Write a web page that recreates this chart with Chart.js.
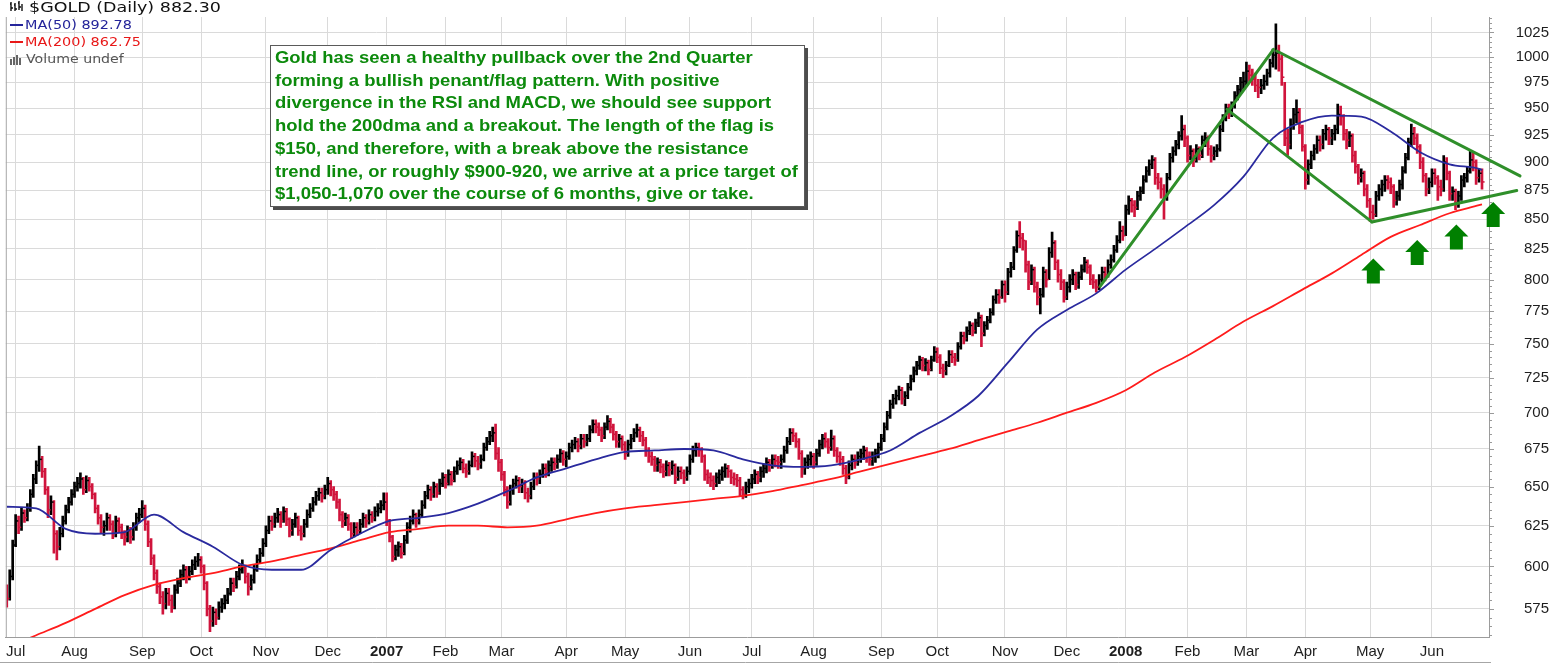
<!DOCTYPE html>
<html>
<head>
<meta charset="utf-8">
<script src="https://cdn.jsdelivr.net/npm/chart.js@4.4.1/dist/chart.umd.min.js"></script>
<style>
html,body{margin:0;padding:0;background:#fff;}
#wrap{position:relative;width:1549px;height:665px;overflow:hidden;background:#fff;}
#c{position:absolute;left:0;top:0;}
.lg{position:absolute;left:0;white-space:nowrap;font-family:'DejaVu Sans',Verdana,sans-serif;}
.lg span.t{display:inline-block;transform-origin:0 50%;}
#note{position:absolute;left:270px;top:45px;width:535px;height:162px;box-sizing:border-box;border:1px solid #5a5a5a;background:#fff;box-shadow:3px 3px 0 #4d4d4d;padding:1px 0 0 4px;font-family:'Liberation Sans',Arial,sans-serif;font-weight:bold;font-size:17px;line-height:22.7px;color:#0c8a0c;white-space:nowrap;}
#note div{transform:scaleX(1.085);transform-origin:0 50%;}
#dbg{position:absolute;left:600px;top:300px;color:#f00;font:14px sans-serif;}
</style>
</head>
<body>
<div id="wrap">
<canvas id="c" width="1549" height="665"></canvas>
<div class="lg" style="top:0px;left:10px;font-size:14px;line-height:14px;color:#111;">
  <svg width="13" height="11" style="position:absolute;left:0;top:1px" viewBox="0 0 13 11"><path d="M1 1v9M0 3h1M1 7h2M5 2v8M4 4h1M5 8h2M9 0v9M8 2h1M9 6h2M12 3v7" stroke="#111" stroke-width="1.4" fill="none"/></svg>
  <span class="t" style="position:absolute;left:19px;top:0;transform:scaleX(1.25)">$GOLD (Daily) 882.30</span>
</div>
<div class="lg" style="top:19px;left:10px;font-size:12px;line-height:12px;color:#24249a;">
  <span style="position:absolute;left:0;top:5px;width:13px;height:2px;background:#24249a"></span>
  <span class="t" style="position:absolute;left:15px;top:0;transform:scaleX(1.2)">MA(50) 892.78</span>
</div>
<div class="lg" style="top:36px;left:10px;font-size:12px;line-height:12px;color:#e81818;">
  <span style="position:absolute;left:0;top:5px;width:13px;height:2px;background:#e81818"></span>
  <span class="t" style="position:absolute;left:15px;top:0;transform:scaleX(1.2)">MA(200) 862.75</span>
</div>
<div class="lg" style="top:53px;left:10px;font-size:12px;line-height:12px;color:#555;">
  <svg width="13" height="11" style="position:absolute;left:0;top:1px" viewBox="0 0 13 11"><path d="M1 5v6M4 3v8M7 1v10M10 4v7" stroke="#666" stroke-width="2" fill="none"/></svg>
  <span class="t" style="position:absolute;left:16px;top:0;transform:scaleX(1.18)">Volume undef</span>
</div>
<div id="note">
<div>Gold has seen a healthy pullback over the 2nd Quarter</div>
<div>forming a bullish penant/flag pattern. With positive</div>
<div>divergence in the RSI and MACD, we should see support</div>
<div>hold the 200dma and a breakout. The length of the flag is</div>
<div>$150, and therefore, with a break above the resistance</div>
<div>trend line, or roughly $900-920, we arrive at a price target of</div>
<div>$1,050-1,070 over the course of 6 months, give or take.</div>
</div>
<div id="dbg"></div>
</div>
<script>
// ---------------- DATA ----------------
const firstDay = '2006-06-28';
const holidays = ['2006-07-04','2006-09-04','2006-11-23','2006-12-25','2007-01-01','2007-01-02','2007-01-15','2007-02-19','2007-04-06','2007-05-28','2007-07-04','2007-09-03','2007-11-22','2007-12-25','2008-01-01','2008-01-21','2008-02-18','2008-03-21','2008-05-26'];
const monthNames = ['Jan','Feb','Mar','Apr','May','Jun','Jul','Aug','Sep','Oct','Nov','Dec'];
const priorClose = 586;

const closes = [
581,594,613,
628,624,633,630,636,645,655,664,668,660,648,635,640,620,612,620,628,635,640,645,
650,652,655,648,654,650,645,636,630,624,625,630,626,620,628,624,620,618,622,618,624,630,632,
636,626,615,605,596,588,582,578,584,580,576,586,590,595,598,594,597,601,603,604,
600,590,575,568,573,570,576,578,580,584,590,588,594,598,600,594,588,592,598,604,608,614,
622,628,626,630,632,628,634,629,622,626,630,622,620,626,632,636,640,644,646,644,648,
652,648,645,640,632,628,630,626,620,624,622,626,630,628,632,630,634,636,638,640,
628,618,606,610,612,608,616,624,628,632,628,632,638,644,648,645,650,646,652,656,
652,658,654,660,664,666,662,660,664,670,667,665,668,676,680,684,686,672,666,
658,648,640,648,652,654,650,652,646,644,650,656,655,658,662,660,664,666,665,668,672,668,
670,676,678,680,677,682,680,682,688,692,690,688,684,690,694,690,685,680,682,678,
672,678,682,686,688,684,681,674,670,668,664,666,663,660,664,661,664,656,660,659,656,660,
668,674,676,674,670,658,656,654,652,656,658,660,662,660,656,655,654,648,645,650,652,
655,658,656,660,662,666,664,668,667,666,668,674,680,686,684,680,672,662,666,668,670,
666,672,678,682,680,676,682,674,670,668,662,656,664,668,666,670,672,674,670,668,670,672,676,
682,690,698,706,710,712,716,710,712,718,724,730,734,738,734,736,731,738,744,
740,732,730,734,742,740,738,748,756,754,760,764,760,766,770,758,764,768,774,784,788,786,796,
790,806,810,824,836,834,832,812,798,808,794,786,788,806,800,822,830,814,804,798,786,
794,800,804,796,802,808,814,810,800,798,794,800,806,804,812,816,824,832,840,836,
858,866,862,860,870,874,884,892,898,902,886,882,876,870,886,904,910,916,924,930,922,
906,910,902,912,906,920,922,912,906,910,912,930,940,950,946,952,962,968,975,976,
986,982,978,972,970,972,976,984,994,1002,1004,998,980,922,916,934,944,946,932,914,
884,898,906,912,920,916,926,930,922,926,930,944,942,926,920,924,906,896,886,890,876,866,
856,854,870,876,880,884,882,878,866,870,880,892,904,918,926,922,914,900,888,876,882,
890,886,878,876,900,890,872,874,864,870,884,886,892,902,900,886,890,882.3
];

const highs = [
589,598,616,
632,631,636,635,639,648,658,667,677,670,662,650,644,641,622,624,631,638,643,648,
653,656,659,656,657,656,652,646,638,632,628,633,632,628,631,630,626,622,625,624,627,633,636,
641,638,628,617,607,598,590,585,587,587,583,589,593,598,601,600,600,604,606,608,
606,601,591,577,576,575,579,581,583,587,593,593,597,601,604,601,596,595,601,607,611,617,
625,631,631,633,636,634,637,636,630,629,633,631,625,629,635,639,643,647,649,649,651,
656,654,650,647,642,634,633,632,627,627,627,629,633,632,635,634,637,639,641,646,
646,629,619,613,615,614,619,627,631,635,633,635,641,647,651,650,653,652,655,659,
658,661,660,663,667,669,668,665,667,673,672,670,671,679,683,687,690,692,676,
668,660,650,651,655,657,656,655,654,649,653,659,659,661,665,665,667,669,669,671,675,674,
673,679,681,683,682,685,685,685,691,695,695,693,690,693,698,696,692,687,685,684,
680,681,685,689,692,690,687,683,676,673,670,669,668,665,667,666,667,665,663,663,661,663,
671,677,679,679,676,671,661,659,657,659,661,663,665,664,661,659,658,656,650,653,655,
658,661,660,663,665,669,668,671,671,670,671,677,683,689,689,686,682,674,669,671,673,
672,675,681,685,686,682,688,684,676,673,670,664,667,671,671,673,675,677,676,673,673,675,679,
685,693,701,709,713,716,719,718,715,721,727,733,737,741,740,739,738,741,748,
747,742,735,737,745,745,743,751,759,759,763,767,766,769,774,772,767,771,777,787,792,792,799,
799,809,814,827,840,848,838,832,815,812,810,798,793,810,808,826,839,832,816,808,800,
798,804,808,806,806,812,818,816,812,804,800,804,810,810,816,820,828,836,848,844,
862,870,868,866,874,878,888,896,902,906,904,890,886,880,890,908,914,920,928,943,934,
924,915,912,916,914,924,927,924,915,914,916,934,944,954,954,956,966,972,980,985,
995,992,988,984,978,978,982,988,998,1008,1034,1012,1002,975,930,940,950,958,950,934,
916,902,910,916,924,924,930,934,932,930,934,954,952,944,930,928,926,910,898,894,892,880,
868,862,874,880,884,888,888,886,880,874,884,896,908,922,935,932,926,916,904,890,886,
894,894,888,884,906,904,892,878,876,874,888,890,896,910,908,902,894,894
];

const lows = [
576,580,592,
612,620,622,627,628,634,643,652,660,656,645,630,632,608,604,610,618,626,633,638,
643,647,649,645,646,647,642,633,626,620,619,622,622,617,618,621,617,613,615,614,616,622,627,
630,622,612,601,592,584,578,572,575,577,573,575,584,588,592,590,592,595,598,600,
596,586,571,562,565,566,569,573,575,578,583,585,587,592,596,590,583,586,590,597,602,606,
612,620,622,624,627,624,627,625,618,619,624,619,616,618,624,630,634,638,641,640,642,
645,644,641,636,628,624,625,622,617,618,619,620,624,624,626,627,628,631,633,635,
625,615,603,604,606,605,607,614,621,626,624,626,630,636,642,641,643,643,645,650,
649,651,651,653,658,661,659,656,658,663,663,661,662,667,674,678,680,668,660,
654,644,636,638,645,649,646,646,642,640,642,648,651,652,656,656,657,660,661,662,666,664,
663,668,673,675,673,675,676,677,680,686,686,684,680,682,688,686,681,676,676,674,
668,670,675,680,683,680,677,670,666,664,660,660,659,656,657,657,658,652,654,655,652,654,
658,666,670,670,666,654,652,650,648,650,652,654,656,656,652,651,650,644,642,643,646,
649,652,652,653,656,659,660,662,663,662,662,666,672,678,680,676,668,656,658,662,664,
662,664,670,675,676,672,674,670,666,664,658,652,655,661,662,664,666,668,666,664,664,666,669,
674,680,688,696,703,706,709,706,705,710,716,722,727,731,730,730,727,730,737,
736,728,725,727,733,736,734,737,746,750,752,757,756,758,763,748,756,761,766,772,781,781,785,
782,788,802,808,822,826,824,806,792,796,790,780,773,786,794,800,818,808,798,792,782,
784,790,796,792,793,800,806,805,796,793,790,792,798,799,802,809,814,822,830,832,
836,854,856,852,858,866,872,882,888,894,880,876,868,850,866,884,900,906,912,920,914,
900,902,896,900,902,904,914,906,900,902,905,910,928,938,940,942,950,958,964,968,
972,976,972,966,960,964,968,972,980,990,988,986,972,915,906,912,930,936,926,910,
876,880,894,902,908,910,912,920,916,916,920,926,934,920,912,914,900,890,880,882,870,860,
848,850,852,866,870,874,876,872,860,862,866,876,890,902,914,916,908,894,882,870,872,
878,880,866,870,874,884,866,866,858,860,866,878,882,890,892,880,882,876
];

// moving averages (trading-day index -> value)
const maDays = [0,10,20,30,40,50,60,70,80,90,100,110,120,130,140,150,160,170,180,190,200,210,220,230,240,250,260,270,280,290,300,310,320,330,340,350,360,370,380,390,400,410,420,430,440,450,460,470,480,490,500,501];
const ma50 = [637,636,623,620,621,632,621,612,601,598,598,610,620,628,630,633,639,647,656,662,668,673,674,675,674,668,664,663,664,668,674,686,697,712,736,761,776,789,808,825,843,862,887,922,937,943,942,928,909,898,894,892.78];
const ma200 = [553,560,567,575,583,589,593,596,600,603,607,611,616,621,623,625,625,624,625,629,633,636,638,640,642,644,647,651,655,660,665,670,675,681,687,693,700,707,716,729,740,753,767,779,792,805,820,835,845,855,862,862.75];

const yTicks = [575,600,625,650,675,700,725,750,775,800,825,850,875,900,925,950,975,1000,1025];

// annotations in data coordinates [dayIndex, price]
const trendLines = [
  [371.3, 794.6, 430.2, 1007.8],
  [431.3, 1006.1, 513.9, 887.6],
  [414.4, 948.9, 463.6, 847.6],
  [463.6, 847.6, 512.8, 874.7]
];
const arrowTips = [[464.1, 817.0], [479.0, 832.3], [492.3, 845.4], [504.8, 864.8]];

// ---------------- BUILD ----------------
function buildDays(n) {
  const out = [];
  const d = new Date(firstDay + 'T12:00:00Z');
  while (out.length < n) {
    const wd = d.getUTCDay();
    const iso = d.toISOString().slice(0, 10);
    if (wd !== 0 && wd !== 6 && holidays.indexOf(iso) < 0) out.push(iso);
    d.setUTCDate(d.getUTCDate() + 1);
  }
  return out;
}
const days = buildDays(closes.length);
if (highs.length !== closes.length || lows.length !== closes.length || ma50.length !== maDays.length || ma200.length !== maDays.length) {
  document.getElementById('dbg').textContent = 'len C' + closes.length + ' H' + highs.length + ' L' + lows.length + ' last ' + days[days.length-1];
}
const monthTicks = [];
days.forEach((s, i) => { if (i > 0 && s.slice(5, 7) !== days[i - 1].slice(5, 7)) monthTicks.push(i); });
function tickLabel(i) {
  const m = +days[i].slice(5, 7);
  return m === 1 ? days[i].slice(0, 4) : monthNames[m - 1];
}

const RED = '#d0143c', BLACK = '#000000';
const barColors = closes.map((c, i) => c < (i ? closes[i - 1] : priorClose) ? RED : BLACK);

const BAR_DS = 2;
const closeTicks = {
  id: 'closeTicks',
  afterDatasetDraw(chart, args) {
    if (args.index !== BAR_DS) return;
    const {ctx, scales: {x, y}} = chart;
    ctx.save();
    ctx.lineWidth = 1.5;
    closes.forEach((c, i) => {
      const px = x.getPixelForValue(i), py = y.getPixelForValue(c);
      ctx.strokeStyle = barColors[i];
      ctx.beginPath(); ctx.moveTo(px, py); ctx.lineTo(px + 2.6, py); ctx.stroke();
    });
    ctx.restore();
  }
};

const frame = {
  id: 'frame',
  afterDraw(chart) {
    const {ctx, chartArea: a, scales: {y}} = chart;
    ctx.save();
    ctx.strokeStyle = '#a6a6a6';
    ctx.lineWidth = 1;
    ctx.beginPath();
    ctx.moveTo(a.left + 0.5, a.top); ctx.lineTo(a.left + 0.5, a.bottom);
    ctx.moveTo(0, 662.5); ctx.lineTo(a.right + 2, 662.5);
    ctx.stroke();
    ctx.strokeStyle = '#9a9a9a';
    for (let v = 560; v <= 1040; v += 5) {
      const py = Math.round(y.getPixelForValue(v)) + 0.5;
      const len = v % 25 === 0 ? 5 : 3;
      ctx.beginPath(); ctx.moveTo(a.right, py); ctx.lineTo(a.right + len, py); ctx.stroke();
    }
    ctx.restore();
  }
};

const annot = {
  id: 'annot',
  afterDraw(chart) {
    const {ctx, scales: {x, y}} = chart;
    ctx.save();
    ctx.strokeStyle = '#2f8f2a';
    ctx.lineWidth = 3;
    ctx.lineCap = 'round';
    trendLines.forEach(([i0, v0, i1, v1]) => {
      ctx.beginPath();
      ctx.moveTo(x.getPixelForValue(i0), y.getPixelForValue(v0));
      ctx.lineTo(x.getPixelForValue(i1), y.getPixelForValue(v1));
      ctx.stroke();
    });
    ctx.fillStyle = '#008000';
    arrowTips.forEach(([i, v]) => {
      const px = x.getPixelForValue(i), py = y.getPixelForValue(v);
      ctx.beginPath();
      ctx.moveTo(px, py);
      ctx.lineTo(px + 12, py + 12);
      ctx.lineTo(px + 6.5, py + 12);
      ctx.lineTo(px + 6.5, py + 25);
      ctx.lineTo(px - 6.5, py + 25);
      ctx.lineTo(px - 6.5, py + 12);
      ctx.lineTo(px - 12, py + 12);
      ctx.closePath();
      ctx.fill();
    });
    ctx.restore();
  }
};

const GRID = '#dadada';
new Chart(document.getElementById('c'), {
  type: 'bar',
  data: {
    datasets: [
      { type: 'line', data: maDays.map((d, i) => ({x: d, y: ma50[i]})), borderColor: '#2a2a9e', borderWidth: 1.8, pointRadius: 0, cubicInterpolationMode: 'monotone', fill: false },
      { type: 'line', data: maDays.map((d, i) => ({x: d, y: ma200[i]})), borderColor: '#ff1c1c', borderWidth: 1.8, pointRadius: 0, cubicInterpolationMode: 'monotone', fill: false },
      { type: 'bar', data: closes.map((c, i) => ({x: i, y: [lows[i], highs[i]]})), backgroundColor: barColors, borderWidth: 0, barThickness: 2, grouped: false }
    ]
  },
  options: {
    responsive: false,
    animation: false,
    devicePixelRatio: 1,
    layout: {padding: {left: 5, right: 0, top: 0, bottom: 0}},
    plugins: {legend: {display: false}, tooltip: {enabled: false}},
    scales: {
      x: {
        type: 'linear', min: -0.34, max: 503.38, bounds: 'data', offset: false,
        grid: {color: GRID, drawTicks: false, offset: false},
        border: {display: true, color: '#9c9c9c'},
        afterBuildTicks(s) { s.ticks = monthTicks.map(i => ({value: i, major: days[i].slice(5, 7) === '01'})); },
        afterFit(s) { s.height = 28; },
        ticks: {
          autoSkip: false, maxRotation: 0, minRotation: 0, padding: 6, color: '#1e1e1e',
          font: (c) => ({family: "'Liberation Sans', Arial, sans-serif", size: 15, weight: (c.tick && c.tick.major) ? 'bold' : 'normal'}),
          callback: (v) => tickLabel(v)
        }
      },
      y: {
        type: 'logarithmic', position: 'right', min: 559, max: 1041, bounds: 'data',
        grid: {color: GRID, drawTicks: false},
        border: {display: true, color: '#9c9c9c'},
        afterBuildTicks(s) { s.ticks = yTicks.map(v => ({value: v})); },
        afterFit(s) { s.width = 60; },
        ticks: {
          padding: 8, crossAlign: 'far', color: '#1e1e1e',
          font: {family: "'Liberation Sans', Arial, sans-serif", size: 15},
          callback: (v) => String(v)
        }
      }
    }
  },
  plugins: [closeTicks, frame, annot]
});
</script>
</body>
</html>
